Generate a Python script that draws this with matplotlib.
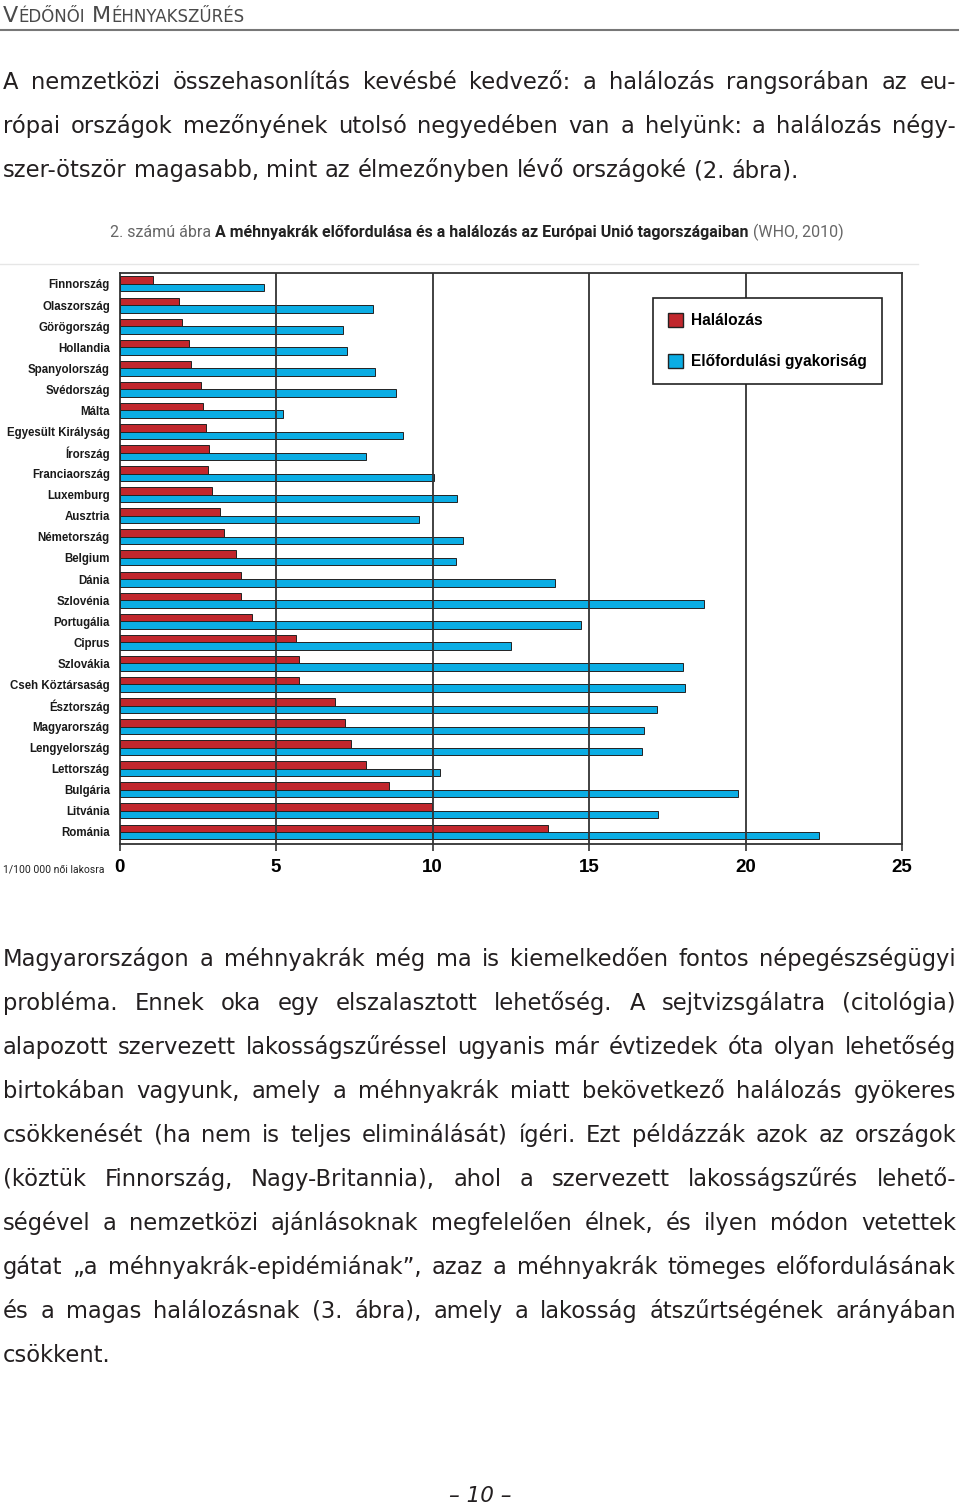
import matplotlib
matplotlib.use('Agg')
import matplotlib.pyplot as plt
from matplotlib.patches import Patch
from matplotlib.lines import Line2D
import numpy as np

# adatok (2. ábra, WHO 2010) - 1/100 000 női lakosra
orszagok = ['Finnország', 'Olaszország', 'Görögország', 'Hollandia', 'Spanyolország',
            'Svédország', 'Málta', 'Egyesült Királyság', 'Írország', 'Franciaország',
            'Luxemburg', 'Ausztria', 'Németország', 'Belgium', 'Dánia', 'Szlovénia',
            'Portugália', 'Ciprus', 'Szlovákia', 'Cseh Köztársaság', 'Észtország',
            'Magyarország', 'Lengyelország', 'Lettország', 'Bulgária', 'Litvánia', 'Románia']
halalozas = [1.07, 1.9, 2.0, 2.22, 2.28, 2.6, 2.67, 2.76, 2.86, 2.83, 2.96, 3.21, 3.34,
             3.72, 3.88, 3.88, 4.23, 5.64, 5.73, 5.73, 6.88, 7.2, 7.4, 7.88, 8.61, 9.98, 13.7]
elofordulas = [4.62, 8.1, 7.14, 7.27, 8.16, 8.83, 5.22, 9.06, 7.88, 10.05, 10.78, 9.57,
               10.97, 10.75, 13.91, 18.67, 14.74, 12.5, 18.0, 18.07, 17.17, 16.76, 16.69,
               10.24, 19.76, 17.2, 22.35]
xtick_ertekek = [0, 5, 10, 15, 20, 25]

fejlec = [('V', 16), ('ÉDŐNŐI', 12), (' M', 16), ('ÉHNYAKSZŰRÉS', 12)]

bevezeto = [
    'A nemzetközi összehasonlítás kevésbé kedvező: a halálozás rangsorában az eu-',
    'rópai országok mezőnyének utolsó negyedében van a helyünk: a halálozás négy-',
    'szer-ötször magasabb, mint az élmezőnyben lévő országoké (2. ábra).',
]
torzs = [
    'Magyarországon a méhnyakrák még ma is kiemelkedően fontos népegészségügyi',
    'probléma. Ennek oka egy elszalasztott lehetőség. A sejtvizsgálatra (citológia)',
    'alapozott szervezett lakosságszűréssel ugyanis már évtizedek óta olyan lehetőség',
    'birtokában vagyunk, amely a méhnyakrák miatt bekövetkező halálozás gyökeres',
    'csökkenését (ha nem is teljes eliminálását) ígéri. Ezt példázzák azok az országok',
    '(köztük Finnország, Nagy-Britannia), ahol a szervezett lakosságszűrés lehető-',
    'ségével a nemzetközi ajánlásoknak megfelelően élnek, és ilyen módon vetettek',
    'gátat „a méhnyakrák-epidémiának”, azaz a méhnyakrák tömeges előfordulásának',
    'és a magas halálozásnak (3. ábra), amely a lakosság átszűrtségének arányában',
    'csökkent.',
]

W, H = 960, 1509
fig = plt.figure(figsize=(W / 100, H / 100), dpi=100)
renderer = fig.canvas.get_renderer()

BETU = 16.3


def fx(x):
    return x / W


def fy(y):
    return 1 - y / H


def szelesseg(t):
    return t.get_window_extent(renderer).width


def sor(szoveg, y, size, x0=3, x1=956, utolso=False, color='#231f20'):
    szavak = szoveg.split(' ')
    objs = [fig.text(0, 0, s, fontsize=size, family='DejaVu Sans', color=color,
                     va='baseline') for s in szavak]
    ws = [szelesseg(o) for o in objs]
    space = size * 100 / 72 * 0.318
    if utolso or len(szavak) == 1:
        gap = space
    else:
        gap = (x1 - x0 - sum(ws)) / (len(szavak) - 1)
    x = x0
    for o, w in zip(objs, ws):
        o.set_position((fx(x), fy(y)))
        x += w + gap


# fejléc
x = 3
for s, size in fejlec:
    if s.startswith(' '):
        x += 7
        s = s.strip()
    t = fig.text(fx(x), fy(22), s, fontsize=size, family='DejaVu Sans', color='#4a4a4a',
                 va='baseline')
    x += szelesseg(t)
fig.add_artist(Line2D([0, fx(958)], [fy(30), fy(30)], color='#777777', lw=1.5))

# bevezető bekezdés
for i, s in enumerate(bevezeto):
    sor(s, 89 + 44 * i, BETU, utolso=(i == len(bevezeto) - 1))

# ábra cím
cim = [('2. számú ábra', 'normal', '#666666'),
       ('A méhnyakrák előfordulása és a halálozás az Európai Unió tagországaiban', 'bold', '#222222'),
       ('(WHO, 2010)', 'normal', '#666666')]
objs = [fig.text(0, 0, s, fontsize=10.5, family='Roboto', fontweight=wt, color=c,
                 va='baseline') for s, wt, c in cim]
ws = [szelesseg(o) for o in objs]
sp = 10.5 * 100 / 72 * 0.25
k = 738 / (sum(ws) + 2 * sp)
for o in objs:
    o.set_fontsize(10.5 * k)
ws = [szelesseg(o) for o in objs]
x = 110
for o, w in zip(objs, ws):
    o.set_position((fx(x), fy(237)))
    x += w + sp * k
fig.add_artist(Line2D([0, fx(918)], [fy(264), fy(264)], color='#e6e6e6', lw=1))

# diagram
piros = '#c1272d'
kek = '#0bade4'
ax = fig.add_axes([fx(119.5), fy(844), (902 - 119.5) / W, (844 - 273) / H])
y = np.arange(len(orszagok))
ax.barh(y - 0.1775, halalozas, height=0.355, color=piros, edgecolor='#222222',
        linewidth=0.7, zorder=3)
ax.barh(y + 0.1775, elofordulas, height=0.355, color=kek, edgecolor='#222222',
        linewidth=0.7, zorder=3)
for v in xtick_ertekek[1:-1]:
    ax.axvline(v, color='#333333', lw=1.3, zorder=4)
ax.set_xlim(0, 25)
ax.set_ylim(26.57, -0.52)
for sp_ in ax.spines.values():
    sp_.set_color('#333333')
    sp_.set_linewidth(1.3)
ax.set_xticks(xtick_ertekek)
ax.set_xticklabels([str(v) for v in xtick_ertekek], fontsize=13.5, fontweight='bold',
                   family='Liberation Sans')
ax.tick_params(axis='x', length=5, width=1.2, color='#333333', pad=6)
ax.set_yticks(y)
ax.set_yticklabels(orszagok, fontsize=8.3, fontweight='bold', family='Liberation Sans',
                   color='#1a1a1a')
ax.tick_params(axis='y', length=0, pad=7)

handles = [Patch(facecolor=piros, edgecolor='#222222', label='Halálozás'),
           Patch(facecolor=kek, edgecolor='#222222', label='Előfordulási gyakoriság')]
leg = ax.legend(handles=handles, loc='upper left', bbox_to_anchor=(fx(653), fy(298)),
                bbox_transform=fig.transFigure,
                prop=dict(family='Liberation Sans', weight='bold', size=11.2),
                frameon=True, fancybox=False, edgecolor='#222222', framealpha=1,
                handlelength=1.0, handleheight=1.0, handletextpad=0.5,
                labelspacing=1.65, borderpad=0.95, borderaxespad=0)
leg.get_frame().set_linewidth(1.2)

fig.text(fx(3), fy(872), '1/100 000 női lakosra', fontsize=7.5,
         family=['Liberation Sans Narrow', 'Roboto'], color='#222222', va='baseline')

# szöveg
for i, s in enumerate(torzs):
    sor(s, 966 + 44 * i, BETU, utolso=(i == len(torzs) - 1))

# oldalszám
fig.text(0.5, fy(1502), '– 10 –', fontsize=15.5, style='italic', family='DejaVu Sans',
         color='#231f20', ha='center', va='baseline')

fig.savefig('out.png', dpi=100)
